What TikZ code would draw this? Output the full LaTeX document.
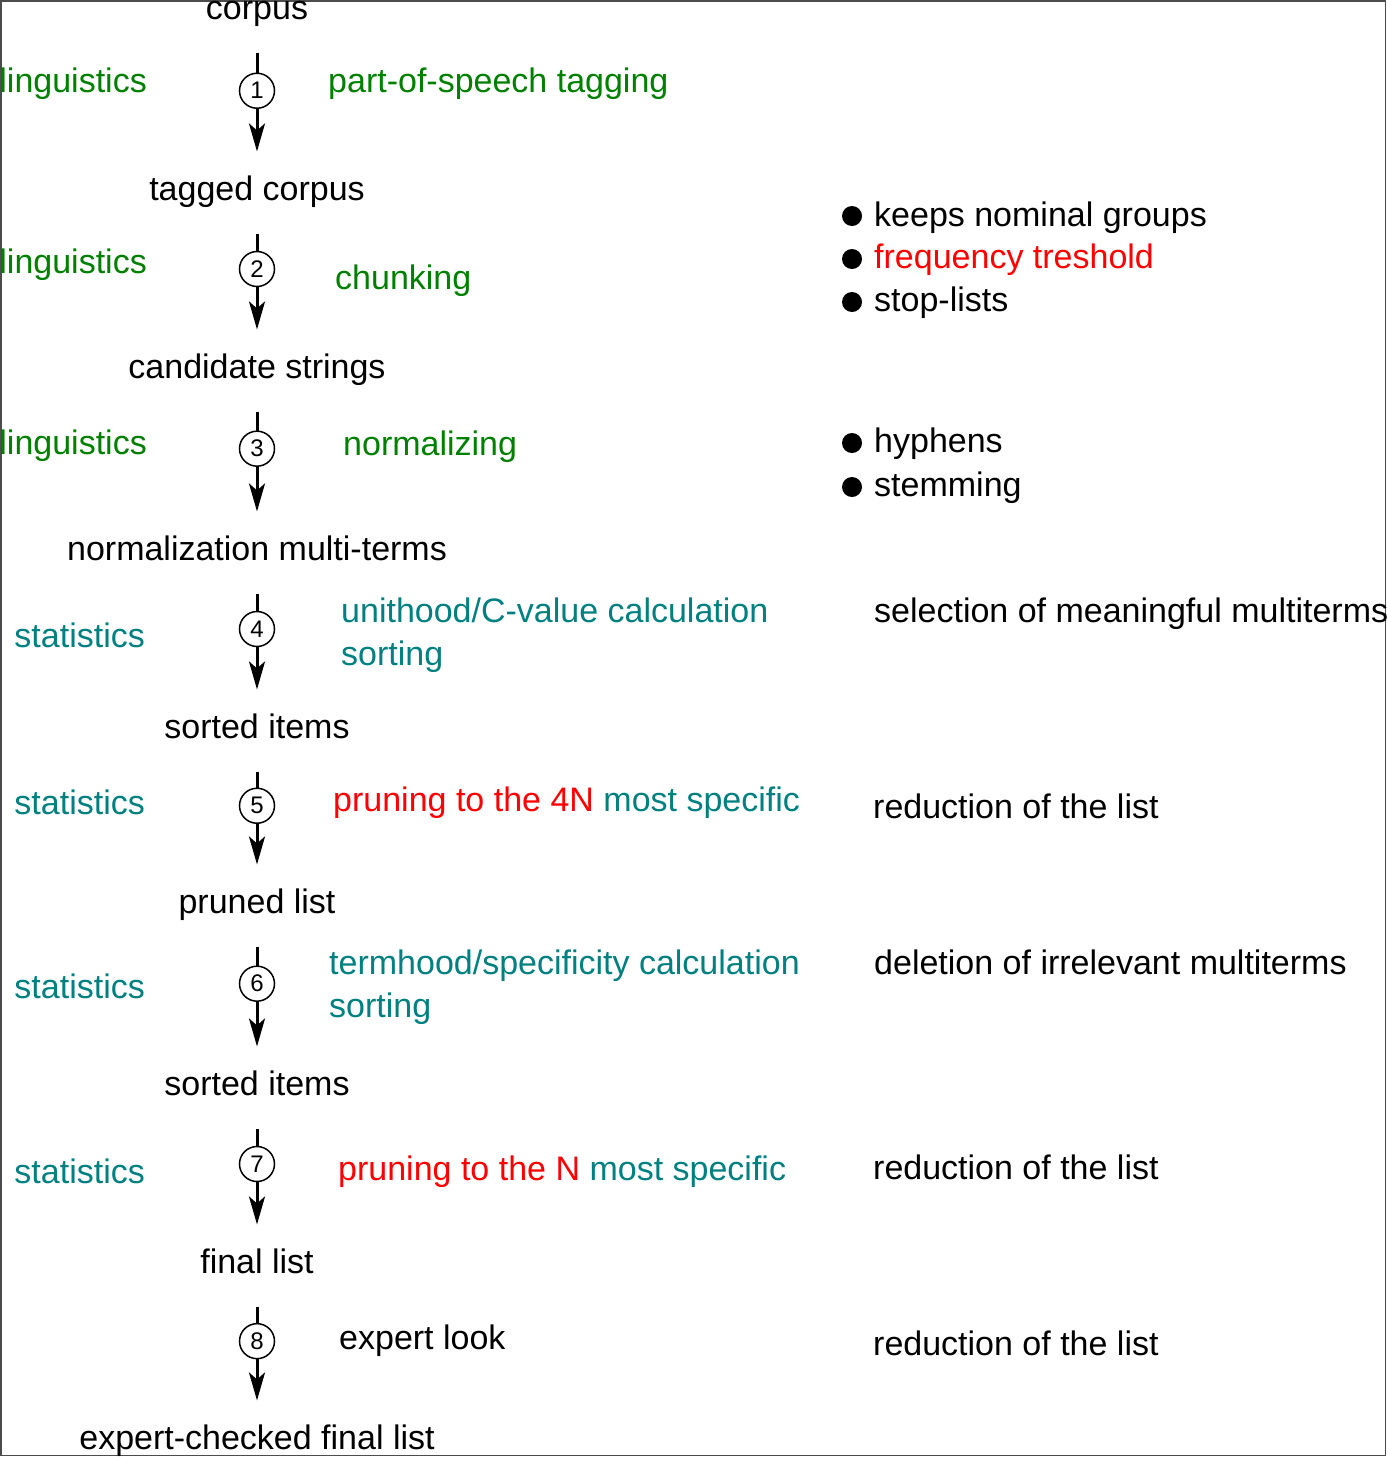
\documentclass[tikz,border=0pt]{standalone}
\usepackage{fontspec}
\setmainfont{Liberation Sans}
\usetikzlibrary{arrows.meta}
\definecolor{lgreen}{RGB}{0,128,0}
\definecolor{lteal}{RGB}{0,128,128}
\definecolor{lred}{RGB}{255,0,0}
\begin{document}
\begin{tikzpicture}[x=1pt,y=-1pt,
  lbl/.style={font=\fontsize{34}{40}\selectfont, inner sep=0pt, yshift=-9pt},
  stage/.style={lbl, anchor=mid, text height=25pt, text depth=7pt},
  side/.style={lbl, anchor=mid east},
  act/.style={lbl, anchor=mid west},
  note/.style={lbl, anchor=mid west},
  dot/.style={circle, fill=black, inner sep=0pt, minimum size=20pt},
  num/.style={circle, draw=black, line width=1.5pt, fill=white, inner sep=0pt,
    minimum size=35pt, font=\fontsize{24}{26}\selectfont},
  flow/.style={line width=3pt, -{Stealth[length=28pt,width=16pt,inset=7pt]},
    shorten <=26pt, shorten >=24pt}
]
\useasboundingbox (0,0) rectangle (1387,1457);
\clip (0,0) rectangle (1387,1457);

% frame
\draw[black!70, line width=1.5pt] (0.75,0.75) rectangle (1385.5,1455.5);

% stage nodes
\node[stage] (s0) at (257,8) {corpus};
\node[stage] (s1) at (257,189) {tagged corpus};
\node[stage] (s2) at (257,367) {candidate strings};
\node[stage] (s3) at (257,549) {normalization multi-terms};
\node[stage] (s4) at (257,727) {sorted items};
\node[stage] (s5) at (257,902) {pruned list};
\node[stage] (s6) at (257,1084) {sorted items};
\node[stage] (s7) at (257,1262) {final list};
\node[stage] (s8) at (257,1438) {expert-checked final list};

% arrows with numbered circles
\draw[flow] (s0) -- node[num, pos=0.43] (c1) {1} (s1);
\draw[flow] (s1) -- node[num, pos=0.42] (c2) {2} (s2);
\draw[flow] (s2) -- node[num, pos=0.42] (c3) {3} (s3);
\draw[flow] (s3) -- node[num, pos=0.42] (c4) {4} (s4);
\draw[flow] (s4) -- node[num, pos=0.42] (c5) {5} (s5);
\draw[flow] (s5) -- node[num, pos=0.42] (c6) {6} (s6);
\draw[flow] (s6) -- node[num, pos=0.42] (c7) {7} (s7);
\draw[flow] (s7) -- node[num, pos=0.42] (c8) {8} (s8);

% left labels
\node[side, text=lgreen] (l1) at (147,81) {linguistics};
\node[side, text=lgreen] (l2) at (147,262) {linguistics};
\node[side, text=lgreen] (l3) at (147,443) {linguistics};
\node[side, text=lteal] (l4) at (145,636) {statistics};
\node[side, text=lteal] (l5) at (145,803) {statistics};
\node[side, text=lteal] (l6) at (145,987) {statistics};
\node[side, text=lteal] (l7) at (145,1172) {statistics};

% action labels
\node[act, text=lgreen] (a1) at (328,81) {part-of-speech tagging};
\node[act, text=lgreen] (a2) at (335,278) {chunking};
\node[act, text=lgreen] (a3) at (343,444) {normalizing};
\node[act, text=lteal] (a4) at (341,611) {unithood/C-value calculation};
\node[act, text=lteal] (a4b) at (341,654) {sorting};
\node[act, text=lteal] (a5) at (333,800) {{\color{lred}pruning to the 4N} most specific};
\node[act, text=lteal] (a6) at (329,963) {termhood/specificity calculation};
\node[act, text=lteal] (a6b) at (329,1006) {sorting};
\node[act, text=lteal] (a7) at (338,1169) {{\color{lred}pruning to the N} most specific};
\node[act] (a8) at (339,1338) {expert look};

% right notes
\node[dot] (b1) at (852,216) {};
\node[note] (r1) at (874,215) {keeps nominal groups};
\node[dot] (b2) at (852,259) {};
\node[note, text=lred] (r2) at (874,257) {frequency treshold};
\node[dot] (b3) at (852,302) {};
\node[note] (r3) at (874,300) {stop-lists};
\node[dot] (b4) at (852,443) {};
\node[note] (r4) at (874,441) {hyphens};
\node[dot] (b5) at (852,487) {};
\node[note] (r5) at (874,485) {stemming};
\node[note] (r6) at (874,611) {selection of meaningful multiterms};
\node[note] (r7) at (873,807) {reduction of the list};
\node[note] (r8) at (874,963) {deletion of irrelevant multiterms};
\node[note] (r9) at (873,1168) {reduction of the list};
\node[note] (r10) at (873,1344) {reduction of the list};
\end{tikzpicture}
\end{document}
